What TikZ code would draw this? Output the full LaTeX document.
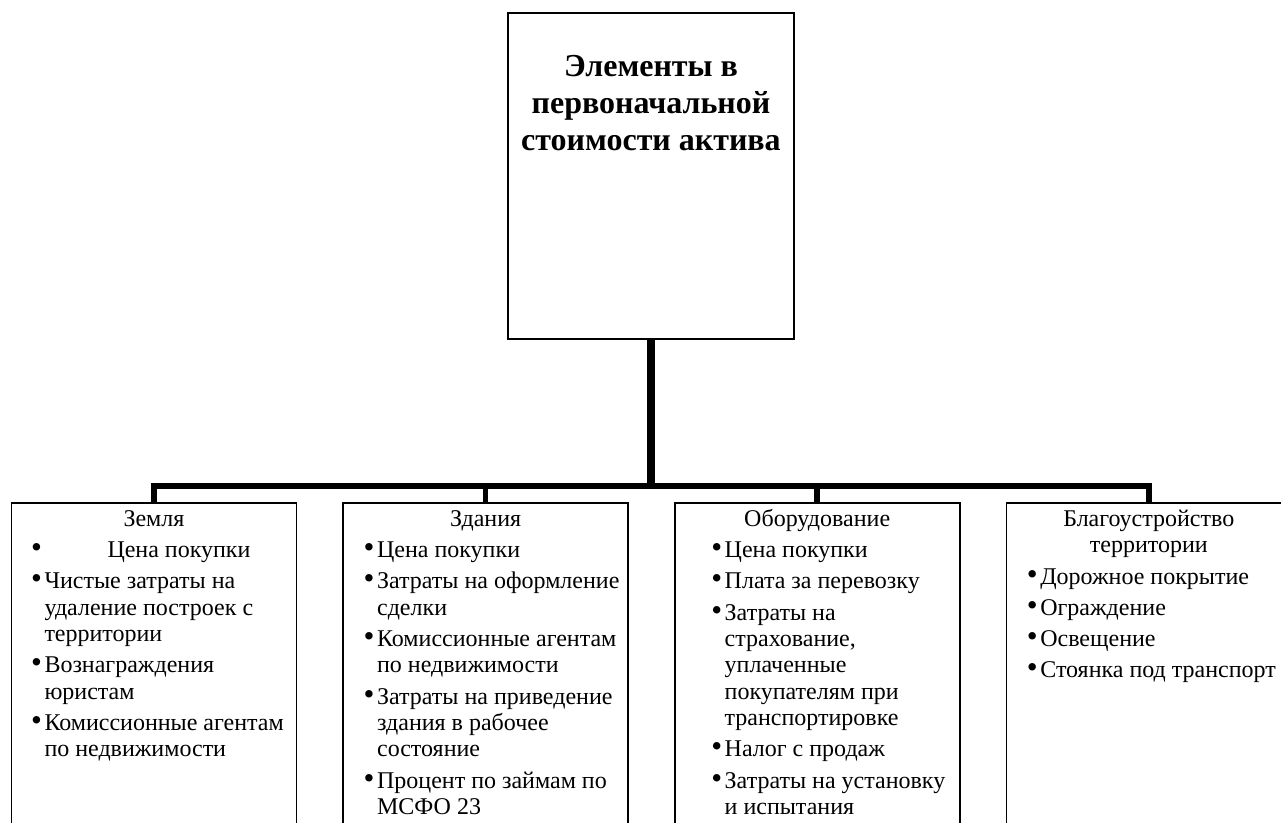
\documentclass[tikz,border=0pt]{standalone}
\usepackage{fontspec}
\setmainfont{Liberation Serif}
\usepackage{tikz}
\tikzstyle{tcell} = [rectangle, draw, line width=1pt, inner sep=0pt]
\tikzstyle{bcell} = [rectangle, draw, line width=0.8pt, inner sep=0pt]
\tikzstyle{trunk} = [draw, line width=3.75pt]
\tikzstyle{bus} = [draw, line width=2.75pt, line join=miter]

\newlength{\pntin}
\newcommand{\pnt}[1]{\par\hangindent=\dimexpr\pntin+5.5pt\relax\hangafter=1\noindent\hspace*{\dimexpr\pntin-1.2pt\relax}\makebox[6.7pt][l]{\fontsize{15.5}{13.2}\selectfont\textbullet}#1}
\newcommand{\ttl}[1]{{\centering\strut #1\par}}
\newcommand{\cellbody}[2]{\parbox[t][170pt][t]{142.5pt}{\setlength{\pntin}{#1}\fontsize{12}{13.2}\selectfont\parskip=2.4pt\raggedright\vspace*{0.2pt}#2}}

\begin{document}
\begin{tikzpicture}[x=0.5pt, y=-0.5pt, node distance=165.8pt]
    \useasboundingbox (0,0) rectangle (1281,823);

    \node[tcell](top) at (651,176){\parbox[t][163pt][t]{143pt}{\centering\fontsize{16}{18.7}\selectfont\bfseries
        \vspace*{21pt}Элементы в\\первоначальной\\стоимости актива}};

    \node[bcell, anchor=north](land) at (154,502){\cellbody{11pt}{%
        \ttl{Земля}
        \pnt{\hspace*{31.5pt}Цена покупки}
        \pnt{Чистые затраты на\newline удаление построек с\newline территории}
        \pnt{Вознаграждения\newline юристам}
        \pnt{Комиссионные агентам\newline по недвижимости}}};
    \node[bcell, right of=land](bldg){\cellbody{11.5pt}{%
        \ttl{Здания}
        \pnt{Цена покупки}
        \pnt{Затраты на оформление\newline сделки}
        \pnt{Комиссионные агентам\newline по недвижимости}
        \pnt{Затраты на приведение\newline здания в рабочее\newline состояние}
        \pnt{Процент по займам по\newline МСФО 23}}};
    \node[bcell, right of=bldg](equip){\cellbody{19.5pt}{%
        \ttl{Оборудование}
        \pnt{Цена покупки}
        \pnt{Плата за перевозку}
        \pnt{Затраты на\newline страхование,\newline уплаченные\newline покупателям при\newline транспортировке}
        \pnt{Налог с продаж}
        \pnt{Затраты на установку\newline и испытания}}};
    \node[bcell, right of=equip](impr){\cellbody{11.5pt}{%
        \ttl{Благоустройство\\территории}
        \pnt{Дорожное покрытие}
        \pnt{Ограждение}
        \pnt{Освещение}
        \pnt{Стоянка под транспорт}}};

    % connectors
    \coordinate (hub) at (651,486);
    \path[trunk] (top.south) -- (hub);
    \path[bus] (land.north) |- (hub) -| (impr.north);
    \path[bus] (bldg.north) -- (bldg.north |- hub);
    \path[bus] (equip.north) -- (equip.north |- hub);
\end{tikzpicture}
\end{document}
